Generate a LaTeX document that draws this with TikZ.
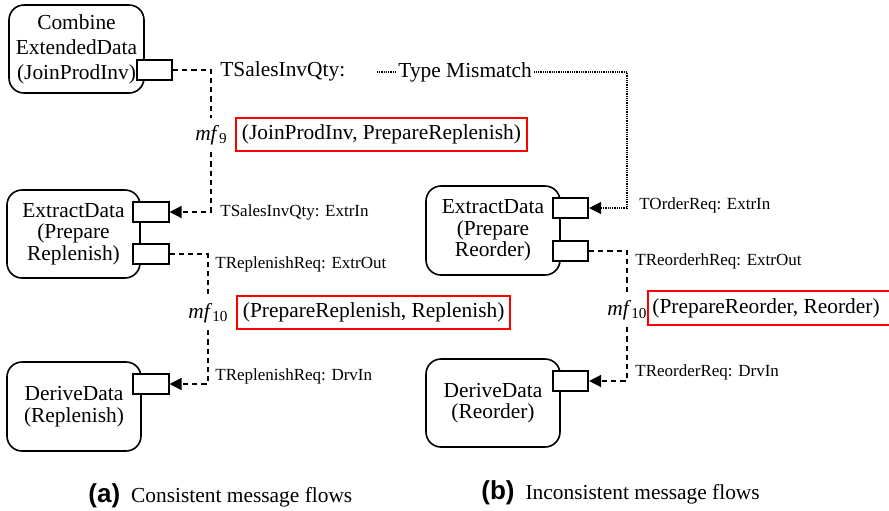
\documentclass[tikz,border=0pt]{standalone}
\usepackage{fontspec}
\setmainfont{Liberation Serif}
\newfontfamily\capsans{Liberation Sans}
\usetikzlibrary{arrows.meta,calc}
\newcommand{\mfsub}[1]{\textit{mf}\raisebox{-0.35ex}{\fontsize{7.6}{8}\selectfont #1}}
\begin{document}
\begin{tikzpicture}[x=0.5pt,y=-0.5pt,
  proc/.style={draw, line width=0.8pt, rounded corners=7.5pt, align=center, inner sep=0pt,
    font=\fontsize{10.7}{10.75}\selectfont},
  port/.style={draw, fill=white, line width=0.8pt, minimum width=17.75pt, minimum height=10pt, inner sep=0pt},
  flow/.style={dash pattern=on 2.6pt off 2pt, line width=0.7pt},
  mism/.style={dash pattern=on 0.45pt off 0.45pt, line width=0.55pt},
  tip/.style={-{Triangle[length=6pt,width=6pt]}},
  lbl/.style={font=\fontsize{8.5}{10}\selectfont, anchor=west, inner sep=0pt},
  big/.style={font=\fontsize{10.7}{12}\selectfont, inner sep=0pt},
  mflab/.style={font=\fontsize{10.7}{12}\selectfont, inner xsep=0pt, inner ysep=3.5pt, fill=white},
  pairtext/.style={font=\fontsize{10.7}{12}\selectfont, inner xsep=3pt, minimum height=15.5pt, anchor=west},
  pair/.style={pairtext, draw=red, line width=0.9pt},
  capt/.style={anchor=base west, inner sep=0pt, font=\fontsize{10.7}{12}\selectfont}
]
\useasboundingbox (0,0) rectangle (889,510);
\clip (0,0) rectangle (889,510);

% ---------- (a) ----------
\node[proc, minimum width=67.5pt, minimum height=44pt, font=\fontsize{10.7}{12.5}\selectfont]
  (comb) at (76.5,49) {Combine\\ExtendedData\\(JoinProdInv)};
\node[port] (pc) at (154.5,70) {};

\node[proc, minimum width=66.5pt, minimum height=44pt] (exa) at (73.5,234) {ExtractData\\(Prepare\\Replenish)};
\node[port] (pain) at (151,212) {};
\node[port] (paout) at (151,254) {};

\node[proc, minimum width=67pt, minimum height=44.5pt] (dra) at (74,406.5) {DeriveData\\(Replenish)};
\node[port] (padrv) at (151,384) {};

% ---------- (b) ----------
\node[proc, minimum width=67pt, minimum height=44.5pt] (exb) at (493,230.5) {ExtractData\\(Prepare\\Reorder)};
\node[port] (pbin) at (570.5,208) {};
\node[port] (pbout) at (570.5,251) {};

\node[proc, minimum width=67pt, minimum height=44pt] (drb) at (493,403) {DeriveData\\(Reorder)};
\node[port] (pbdrv) at (570.5,381) {};

% ---------- labels ----------
\node[big, anchor=west] (tsq) at (220,71) {TSalesInvQty:};
\node[big, anchor=west, inner xsep=1pt] (tm) at (396,72) {Type Mismatch};

\node[mflab] (mf9) at (211,135) {\mfsub{9}};
\node[mflab] (mf10a) at (208,313) {\mfsub{10}};
\node[mflab] (mf10b) at (627,310) {\mfsub{10}};

\node[pair] (rb1) at (235,134.5) {(JoinProdInv, PrepareReplenish)};
\node[pair] (rb2) at (236,312.5) {(PrepareReplenish, Replenish)};
\node[pairtext, inner xsep=2pt] (rb3) at (648,308) {(PrepareReorder, Reorder)};
\draw[red, line width=0.9pt] (rb3.north west) rectangle ($(rb3.south west)+(270,0)$);

\node[lbl] (l1) at (220,212) {TSalesInvQty: ExtrIn};
\node[lbl] (l2) at (215,264) {TReplenishReq: ExtrOut};
\node[lbl] (l3) at (215,376) {TReplenishReq: DrvIn};
\node[lbl] (l4) at (639,205) {TOrderReq: ExtrIn};
\node[lbl] (l5) at (635,261) {TReorderhReq: ExtrOut};
\node[lbl] (l6) at (635,372) {TReorderReq: DrvIn};

% ---------- connectors ----------
\coordinate (k1) at (211,70);
\draw[flow] (pc.east) -- (k1) -- (mf9.north);
\draw[flow,tip] (mf9.south) |- (pain.east);

\coordinate (k2) at (208,254);
\draw[flow] (paout.east) -- (k2) -- (mf10a.north);
\draw[flow,tip] (mf10a.south) |- (padrv.east);

\coordinate (d0) at (377,72);
\coordinate (k3) at (627,72);
\draw[mism] (d0) -- (tm.west);
\draw[mism,tip] (tm.east) -- (k3) |- (pbin.east);

\coordinate (k4) at (627,251);
\draw[flow] (pbout.east) -- (k4) -- (mf10b.north);
\draw[flow,tip] (mf10b.south) |- (pbdrv.east);

% ---------- captions ----------
\node[capt] (capa) at (88,502) {{\capsans\bfseries\fontsize{13}{15}\selectfont (a)}\hspace{5.5pt}Consistent message flows};
\node[capt] (capb) at (481,499) {{\capsans\bfseries\fontsize{13}{15}\selectfont (b)}\hspace{5.5pt}Inconsistent message flows};
\end{tikzpicture}
\end{document}
